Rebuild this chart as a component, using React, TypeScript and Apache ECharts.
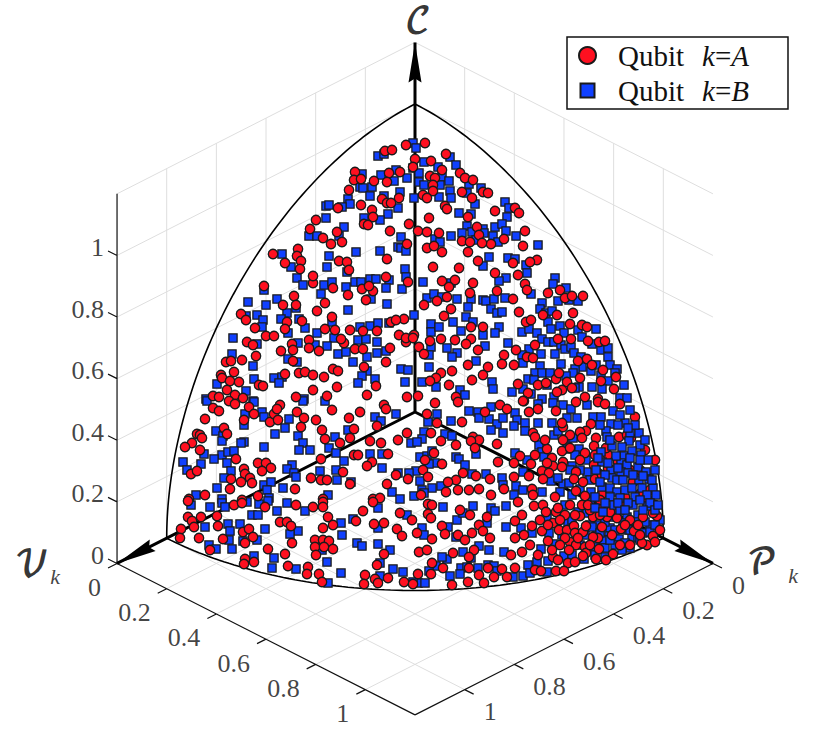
import React, { useEffect, useRef } from "react";
import * as echarts from "echarts";

// Marks, in the plane of the isometric view (width 831, height 748).
const qubitA: number[][] = [
[385,151],[392,150],[406,145],[425,143],[415,159],[446,154],[431,161],[355,172],[354,180],[361,179],[374,181],[389,173],[387,182],[400,172],[413,167],[442,170],[460,173],[430,176],[435,178],[465,178],[473,180],[433,185],[433,191],[423,195],[427,198],[349,190],[382,199],[399,198],[387,203],[391,203],[462,192],[483,192],[488,193],[472,198],[361,205],[338,208],[372,210],[445,206],[447,209],[495,211],[515,208],[519,213],[468,217],[429,218],[316,220],[373,217],[364,224],[368,225],[409,224],[310,229],[337,232],[390,231],[418,231],[427,232],[439,233],[323,238],[331,244],[342,242],[525,231],[477,227],[462,241],[470,242],[479,235],[491,244],[504,239],[523,246],[482,243],[407,244],[427,248],[434,246],[442,252],[468,252],[273,254],[298,249],[297,256],[285,263],[301,261],[300,269],[387,259],[339,261],[347,262],[349,270],[433,267],[459,268],[478,261],[537,260],[530,262],[513,263],
[264,286],[294,296],[283,305],[296,305],[317,311],[325,303],[313,283],[313,276],[333,288],[241,314],[246,320],[255,328],[332,317],[287,322],[302,321],[285,329],[266,336],[274,336],[325,329],[335,330],[247,342],[253,345],[292,344],[309,340],[293,350],[281,351],[309,348],[319,351],[226,362],[231,361],[242,360],[256,356],[293,361],[234,372],[221,375],[222,378],[285,374],[299,373],[305,372],[313,375],[324,377],[333,369],[338,371],[230,381],[239,382],[259,385],[263,386],[227,390],[313,390],[337,387],[213,396],[219,397],[235,395],[243,398],[296,397],[327,396],
[348,295],[362,289],[373,291],[386,277],[369,286],[366,300],[408,282],[442,281],[455,280],[449,287],[473,283],[424,305],[437,301],[451,309],[447,297],[444,316],[470,293],[497,291],[495,273],[404,319],[391,322],[396,320],[414,335],[399,335],[406,342],[406,338],[413,338],[350,330],[363,331],[377,331],[344,343],[341,339],[430,341],[441,339],[455,340],[471,339],[466,344],[471,327],[483,327],[419,347],[424,354],[478,350],[355,349],[363,349],[390,348],[504,355],[502,364],[386,362],[364,367],[468,365],[488,367],[483,375],[452,371],[441,373],[436,378],[430,381],[449,385],[472,380],[376,386],[367,395],[407,397],[418,396],[456,397],
[518,275],[525,284],[527,290],[513,299],[548,293],[583,296],[565,298],[560,290],[572,296],[519,312],[543,315],[557,315],[573,313],[526,322],[531,320],[570,324],[582,325],[587,327],[535,345],[516,350],[558,339],[571,339],[599,342],[605,341],[588,341],[527,357],[533,358],[514,365],[578,361],[587,359],[592,365],[603,370],[556,379],[559,373],[580,378],[567,382],[601,381],[518,384],[538,385],[546,383],[572,388],[562,390],[557,392],[614,389],[528,393],[585,397],[524,401],[598,399],[616,377],
[205,419],[213,408],[219,411],[229,401],[235,404],[249,407],[254,414],[244,420],[224,428],[227,434],[197,434],[200,435],[202,438],[192,443],[185,447],[200,450],[270,422],[274,414],[278,420],[280,405],[277,409],[297,412],[304,418],[301,427],[316,420],[322,430],[325,439],[332,410],[236,459],[258,463],[266,463],[271,468],[262,471],[244,469],[245,474],[250,478],[252,483],[241,482],[231,479],[230,489],[191,474],[197,471],[205,495],[258,496],[242,500],[295,489],[311,478],[321,459],[321,480],[327,480],[323,499],[189,499],
[360,412],[384,405],[386,409],[349,418],[354,429],[350,438],[377,426],[370,441],[381,443],[398,440],[407,433],[427,414],[435,403],[458,402],[437,423],[462,422],[431,433],[441,441],[456,445],[473,437],[479,440],[471,441],[475,448],[485,412],[500,405],[507,409],[497,444],[498,462],[354,455],[358,455],[388,454],[372,462],[367,466],[340,443],[425,460],[434,453],[442,464],[423,470],[428,477],[396,475],[387,484],[408,479],[343,472],[350,484],[463,473],[456,480],[448,482],[476,476],[490,479],[446,492],[458,490],[469,490],[479,489],[491,495],[504,489],[373,499],[380,498],[421,495],
[523,401],[529,412],[556,411],[563,427],[562,423],[591,424],[598,402],[605,404],[576,402],[620,404],[538,409],[533,433],[535,437],[586,431],[580,432],[582,438],[570,435],[596,438],[594,446],[610,445],[619,437],[631,438],[547,449],[562,451],[585,453],[608,455],[645,450],[520,456],[514,463],[531,464],[552,458],[553,466],[563,462],[562,467],[594,465],[547,463],[542,471],[549,473],[529,476],[514,477],[543,479],[598,473],[576,472],[574,479],[583,482],[595,479],[602,475],[608,468],[532,489],[533,495],[576,491],[555,497],[602,494],[585,496],[633,482],[635,417],[627,435],
[188,501],[234,505],[242,503],[265,507],[296,505],[313,507],[323,502],[323,507],[188,517],[192,521],[201,517],[194,527],[181,529],[180,538],[199,538],[217,516],[218,526],[223,539],[243,532],[249,529],[245,543],[253,537],[210,550],[280,522],[287,522],[291,526],[292,543],[268,549],[285,554],[328,517],[333,525],[323,528],[315,540],[323,540],[329,541],[315,547],[324,547],[333,549],[316,555],[245,559],[244,564],[254,562],[288,566],[308,567],[307,574],[319,574],[322,582],
[363,511],[356,521],[373,502],[428,504],[432,505],[400,513],[412,520],[428,514],[431,518],[460,510],[470,515],[487,517],[374,524],[384,523],[397,529],[402,536],[417,533],[432,539],[442,526],[445,534],[458,535],[465,540],[472,533],[479,525],[483,531],[490,538],[419,552],[427,550],[384,554],[453,553],[474,550],[469,557],[432,563],[443,568],[377,565],[365,575],[375,579],[388,578],[364,584],[378,583],[404,582],[418,574],[431,574],[452,585],[468,582],[479,575],[484,583],[494,577],[502,569],[507,577],[413,584],[469,568],[488,568],
[518,502],[534,506],[543,505],[522,515],[515,521],[546,512],[553,523],[556,512],[532,526],[542,531],[524,535],[515,538],[559,530],[567,530],[574,526],[575,533],[583,532],[586,526],[580,516],[582,505],[599,508],[593,517],[607,517],[614,513],[623,503],[617,518],[602,527],[621,529],[634,531],[598,538],[548,541],[570,542],[576,545],[569,550],[585,547],[586,553],[599,549],[613,554],[522,552],[538,555],[553,557],[568,563],[596,559],[515,568],[535,570],[541,571],[556,571],[564,571],[583,556],[657,516],[653,513],[653,536],[643,517],[647,545],[642,543],[511,555],[630,520],[593,537],
// crowded lower-right corner
[610,512],[625,497],[640,494],[648,500],[655,505],[660,530],[655,542],[638,525],[625,525],[612,535],[600,515],[590,510],[575,515],[565,515],[570,505],[600,500],[588,505],[640,535],[630,545],[620,545],[606,560],[590,545],[578,538],[565,538],[560,545],[552,550],[560,520],[650,490],[640,470],[655,460],[630,470],[618,462],[606,448],[595,455],[580,460],[570,448],[563,440],[545,440],[535,455],[558,508],[548,525],[575,562],[558,560],[530,545],[540,520],
];

const qubitB: number[][] = [
[413,143],[416,148],[378,156],[384,154],[424,162],[450,157],[456,165],[438,167],[362,174],[381,175],[396,170],[413,168],[419,173],[407,178],[394,181],[442,177],[449,181],[419,182],[424,185],[440,185],[360,187],[363,188],[372,187],[400,192],[469,184],[481,188],[450,191],[467,193],[370,196],[384,196],[348,199],[414,198],[439,197],[451,198],[350,204],[326,206],[329,205],[342,207],[398,208],[475,204],[505,202],[509,208],[459,213],[471,214],[507,217],[326,218],[388,214],[364,218],[380,220],[344,227],[309,236],[317,236],[401,237],[451,236],[339,236],[467,226],[483,229],[495,227],[502,224],[506,231],[516,236],[462,233],[472,232],[484,233],[493,236],[498,242],[476,240],[435,239],[440,242],[538,245],[398,247],[401,248],[406,251],[356,252],[380,251],[329,256],[282,254],[489,257],[508,258],[515,259],[291,267],[327,267],[405,269],[483,266],[526,265],
[264,290],[248,302],[266,305],[277,299],[296,308],[297,278],[303,285],[321,294],[324,285],[332,282],[287,313],[246,316],[257,315],[263,320],[281,319],[299,319],[262,327],[305,328],[288,333],[332,322],[317,333],[233,338],[257,344],[298,343],[334,338],[315,345],[327,346],[232,354],[338,354],[288,359],[297,362],[253,366],[254,379],[274,378],[282,377],[279,383],[217,384],[246,391],[206,399],[304,399],[253,401],
[346,287],[347,272],[355,282],[361,282],[370,279],[376,279],[389,280],[386,288],[402,289],[406,277],[423,282],[371,299],[387,304],[348,310],[427,298],[434,294],[442,297],[451,283],[457,299],[471,299],[468,307],[483,300],[486,301],[494,299],[505,298],[491,309],[497,313],[502,312],[506,278],[499,281],[466,317],[473,322],[414,315],[431,324],[453,322],[431,332],[439,327],[461,331],[499,327],[495,333],[483,335],[508,343],[485,346],[360,327],[370,326],[378,323],[389,323],[358,340],[366,339],[377,342],[346,352],[377,353],[386,351],[367,357],[353,362],[431,347],[447,348],[457,353],[452,357],[429,355],[476,361],[429,367],[401,369],[408,370],[367,371],[362,376],[375,379],[358,383],[405,382],[422,382],[436,387],[460,390],[465,395],[492,382],[493,389],
[527,273],[555,278],[553,284],[566,288],[531,294],[542,303],[558,301],[569,300],[578,301],[540,309],[546,313],[552,311],[548,322],[560,326],[596,329],[551,329],[578,330],[522,332],[529,329],[537,333],[564,333],[582,337],[542,339],[548,342],[554,342],[592,344],[561,345],[601,350],[608,348],[529,349],[522,355],[541,354],[555,354],[565,349],[571,347],[574,353],[581,357],[608,357],[523,363],[561,364],[540,366],[596,365],[610,365],[582,367],[575,369],[535,373],[542,373],[550,373],[573,373],[617,369],[615,373],[528,379],[534,380],[591,371],[566,376],[601,375],[624,385],[608,381],[592,387],[602,389],[579,387],[523,389],[512,392],[531,394],[542,399],[554,397],[620,398],[627,398],[547,385],[575,388],
[207,401],[254,402],[262,412],[245,414],[264,417],[244,425],[285,428],[289,419],[216,431],[223,436],[222,441],[275,434],[298,436],[303,443],[244,442],[241,443],[264,447],[299,450],[310,450],[329,448],[335,437],[336,453],[222,455],[228,452],[234,451],[204,454],[201,464],[183,462],[214,459],[227,463],[231,471],[187,470],[224,478],[292,465],[287,469],[294,473],[296,477],[264,485],[271,482],[267,490],[283,488],[217,488],[196,495],[222,499],[320,471],[336,470],[328,495],[269,498],[337,480],[303,401],[325,401],
[375,417],[381,421],[396,414],[348,430],[428,422],[437,414],[451,421],[469,411],[478,412],[491,407],[479,418],[489,419],[497,424],[503,418],[491,430],[503,433],[424,432],[422,439],[411,443],[417,442],[445,434],[452,436],[370,454],[382,454],[344,461],[382,468],[420,457],[427,456],[432,451],[435,463],[429,464],[456,457],[459,459],[465,465],[476,454],[472,474],[486,474],[502,478],[416,471],[409,473],[398,473],[420,481],[422,490],[432,488],[441,486],[424,493],[392,492],[400,499],[414,496],[351,482],[503,485],
[515,413],[538,404],[553,403],[563,405],[587,405],[571,409],[517,420],[514,426],[525,423],[525,431],[538,423],[552,423],[554,435],[558,431],[567,418],[577,418],[593,417],[601,417],[613,411],[630,410],[625,423],[611,424],[606,431],[618,425],[630,433],[639,433],[567,439],[573,438],[640,445],[629,441],[539,445],[542,452],[567,449],[579,449],[601,452],[515,453],[624,456],[527,460],[544,457],[602,462],[621,463],[627,465],[572,466],[523,472],[587,472],[611,470],[621,472],[628,473],[638,467],[646,472],[551,481],[563,484],[569,483],[612,478],[617,480],[623,480],[639,480],[649,479],[516,486],[523,490],[542,492],[560,492],[580,489],[602,487],[610,488],[617,492],[625,490],[632,488],[642,488],[653,488],[591,492],[572,495],[514,495],[595,497],[620,498],[635,497],[647,495],[610,497],
[191,505],[210,507],[222,503],[225,507],[247,502],[259,504],[287,503],[268,501],[305,511],[277,511],[252,515],[258,515],[205,527],[228,524],[240,524],[230,531],[265,529],[298,531],[290,534],[229,540],[243,541],[257,540],[209,545],[216,549],[232,549],[318,548],[322,550],[254,556],[274,558],[272,568],[296,569],[327,562],[328,583],
[378,508],[443,507],[353,519],[341,523],[342,535],[378,528],[407,515],[422,528],[424,535],[448,527],[457,520],[463,513],[473,506],[491,508],[495,511],[506,506],[487,523],[506,527],[456,537],[357,543],[362,546],[378,544],[390,550],[479,546],[489,550],[504,552],[463,552],[447,559],[442,557],[471,558],[380,563],[436,566],[393,569],[403,572],[429,571],[380,576],[461,568],[467,567],[460,574],[478,568],[488,565],[494,566],[497,571],[450,576],[418,583],[425,583],[413,582],[341,573],
[565,505],[590,501],[587,513],[614,505],[633,505],[647,506],[620,510],[638,515],[627,517],[636,522],[623,523],[597,525],[568,523],[610,528],[547,518],[521,528],[532,533],[549,533],[553,544],[541,549],[597,532],[609,536],[603,540],[619,539],[632,538],[638,537],[595,547],[605,557],[584,559],[564,556],[548,561],[537,562],[528,565],[523,576],[530,573],[547,572],[513,577],[630,548],[650,525],[643,533],[650,532],[622,550],[562,535],
// crowded lower-right corner
[600,425],[607,437],[620,415],[635,425],[645,440],[612,446],[622,447],[632,451],[641,455],[648,460],[655,470],[640,460],[616,456],[608,463],[596,470],[605,475],[630,458],[618,468],[633,475],[643,476],[652,480],[656,495],[650,503],[640,500],[628,503],[618,503],[605,503],[595,508],[603,512],[612,517],[625,510],[643,510],[655,510],[660,520],[645,522],[628,530],[615,530],[605,522],[590,525],[585,535],[592,527],[615,545],[605,548],[625,543],[640,540],[610,440],[598,458],[628,428],[600,482],[590,480],[580,470],[586,460],[575,455],[570,470],[558,478],[578,512],[572,520],[600,533],[610,540],[580,545],[572,555],[595,555],[630,530],[655,525],[658,505],
];

// Where the picture shows the squares above the discs: the crowded right-hand cluster.
const inFrontCluster = (q: number[]) => q[0] >= 595 && q[1] >= 405 && q[1] <= 512;

const horizontalTicks = [0, 0.2, 0.4, 0.6, 0.8, 1];
const tickNames = ["0", "0.2", "0.4", "0.6", "0.8", "1"];
const axisMax = 1.2;
const seriesNames = ["Qubit k=A", "Qubit k=B"];
const arcAngles = Array.from({ length: 91 }, (_, i) => i);

const project = (v: number, p: number, c: number): number[] => [
  415 + 248.3 * (p - v),
  412 + 126.2 * (p + v) - 308 * c,
];
const BREAK: any = ["-", "-"];
const FONT = "'Liberation Serif', serif";
const SCRIPT = "'DejaVu Math TeX Gyre', 'Noto Sans Math', 'DejaVu Serif', 'Liberation Serif', serif";
const INK = "#111";

function segments(list: number[][][]) {
  const out: any[] = [];
  list.forEach((s) => {
    out.push(s[0], s[1], BREAK);
  });
  return out;
}

const gridSegs: number[][][] = [];
[...horizontalTicks].forEach((t) => {
  gridSegs.push([project(t, 0, 0), project(t, axisMax, 0)]);
  gridSegs.push([project(0, t, 0), project(axisMax, t, 0)]);
  gridSegs.push([project(t, 0, 0), project(t, 0, axisMax)]);
  gridSegs.push([project(0, t, 0), project(0, t, axisMax)]);
  gridSegs.push([project(axisMax, 0, t), project(0, 0, t)]);
  gridSegs.push([project(0, axisMax, t), project(0, 0, t)]);
});
gridSegs.push([project(0, 0, axisMax), project(axisMax, 0, axisMax)]);
gridSegs.push([project(0, 0, axisMax), project(0, axisMax, axisMax)]);

const shift = (q: number[], dx: number, dy: number) => [q[0] + dx, q[1] + dy];
const boxSegs: number[][][] = [
  [project(axisMax, 0, 0), project(axisMax, 0, axisMax)],
  [project(axisMax, 0, 0), project(axisMax, axisMax, 0)],
  [project(axisMax, axisMax, 0), project(0, axisMax, 0)],
];
horizontalTicks.forEach((t) => {
  const a = project(axisMax, 0, t);
  boxSegs.push([a, shift(a, -9, -4.5)]);
  const b = project(axisMax, t, 0);
  boxSegs.push([b, shift(b, -9, 4.5)]);
  const c = project(t, axisMax, 0);
  boxSegs.push([c, shift(c, 9, 4.5)]);
});

const circleRad = (a: number) => (a * Math.PI) / 180;
const arcData: any[] = [];
arcAngles.forEach((a) => arcData.push(project(Math.cos(circleRad(a)), Math.sin(circleRad(a)), 0)));
arcData.push(BREAK);
arcAngles.forEach((a) => arcData.push(project(Math.cos(circleRad(a)), 0, Math.sin(circleRad(a)))));
arcData.push(BREAK);
arcAngles.forEach((a) => arcData.push(project(0, Math.cos(circleRad(a)), Math.sin(circleRad(a)))));

const axisLines = segments([
  [project(0, 0, 0), project(axisMax, 0, 0)],
  [project(0, 0, 0), project(0, axisMax, 0)],
  [project(0, 0, 0), project(0, 0, axisMax)],
]);

const arrowTips = [project(axisMax, 0, 0), project(0, axisMax, 0), project(0, 0, axisMax)];

function labelSeries(data: any[], align: string, size = 26, family = FONT, extra: any = {}) {
  return {
    type: "scatter",
    silent: true,
    symbolSize: 0,
    z: 8,
    clip: false,
    data,
    label: {
      show: true,
      position: "inside",
      align,
      verticalAlign: "middle",
      fontFamily: family,
      fontSize: size,
      color: INK,
      formatter: (p: any) => p.data.text,
      ...extra,
    },
  };
}

const cLabels = horizontalTicks.map((t, i) => {
  const q = project(axisMax, 0, t);
  return { value: [104, q[1] - 8], text: tickNames[i] };
});
const pLabels = horizontalTicks.map((t, i) => {
  const q = project(axisMax, t, 0);
  return { value: shift(q, -16, 24), text: tickNames[i] };
});
const vLabels = horizontalTicks.map((t, i) => {
  const q = project(t, axisMax, 0);
  return { value: shift(q, 19, 22), text: tickNames[i] };
});

export default function App() {
  const ref = useRef<HTMLDivElement>(null);
  useEffect(() => {
    const chart = echarts.init(ref.current!, undefined, { renderer: "svg" });
    const line = (data: any[], color: string, width: number, z: number) => ({
      type: "line",
      silent: true,
      z,
      data,
      symbol: "none",
      clip: false,
      connectNulls: false,
      legendHoverLink: false,
      lineStyle: { color, width, cap: "butt" },
      animation: false,
    });
    const squares = (data: number[][], z: number) => ({
      name: seriesNames[1],
      type: "scatter",
      z,
      data,
      symbol: "rect",
      symbolSize: 8.2,
      clip: false,
      silent: true,
      itemStyle: { color: "#1040ff", borderColor: "#1a1a1a", borderWidth: 1.3, opacity: 1 },
    });
    chart.setOption({
      animation: false,
      grid: { left: 0, top: 0, width: 831, height: 748, containLabel: false },
      xAxis: { type: "value", min: 0, max: 831, show: false },
      yAxis: { type: "value", min: 0, max: 748, inverse: true, show: false },
      legend: {
        show: true,
        orient: "vertical",
        left: 567,
        top: 37,
        padding: [4, 39, 4, 11],
        itemGap: 6,
        itemWidth: 17,
        itemHeight: 17,
        borderColor: INK,
        borderWidth: 1.5,
        backgroundColor: "#fff",
        selectedMode: false,
        data: [
          { name: seriesNames[0], icon: "circle" },
          { name: seriesNames[1], icon: "path://M0 0L0 0M1.5 1.5h14v14h-14zM17 17L17 17" },
        ],
        formatter: (n: string) => `{p| }{t|Qubit}{g| }{m|k}{t|=}{m|${n.slice(-1)}}`,
        textStyle: {
          rich: {
            p: { fontFamily: FONT, fontSize: 29, width: 17, lineHeight: 30 },
            t: { fontFamily: FONT, fontSize: 29, color: INK, lineHeight: 30 },
            g: { fontFamily: FONT, fontSize: 29, width: 18, lineHeight: 30 },
            m: { fontFamily: FONT, fontSize: 29, fontStyle: "italic", color: INK, lineHeight: 30 },
          },
        },
      },
      series: [
        line(segments(gridSegs), "#dedede", 1, 1),
        line(segments(boxSegs), INK, 1.2, 1),
        line(axisLines, "#000", 3, 1),
        line(arcData, "#000", 1.6, 1),
        {
          type: "custom",
          silent: true,
          clip: false,
          z: 1,
          data: arrowTips.map((t) => [t[0], t[1]]),
          renderItem: (_: any, api: any) => {
            const tip = api.coord([api.value(0), api.value(1)]);
            const o = api.coord(project(0, 0, 0));
            const dx = o[0] - tip[0];
            const dy = o[1] - tip[1];
            const len = Math.hypot(dx, dy);
            const ux = dx / len;
            const uy = dy / len;
            const at = (a: number, b: number) => [tip[0] + ux * a - uy * b, tip[1] + uy * a + ux * b];
            return {
              type: "polygon",
              shape: { points: [at(0, 0), at(40, 6.5), at(36, 0), at(40, -6.5)] },
              style: { fill: "#000" },
            };
          },
        },
        squares(qubitB.filter((q) => !inFrontCluster(q)), 3),
        {
          name: seriesNames[0],
          type: "scatter",
          z: 4,
          data: qubitA,
          symbol: "circle",
          symbolSize: 9.4,
          clip: false,
          silent: true,
          itemStyle: { color: "#ff1020", borderColor: "#1a1a1a", borderWidth: 1.3, opacity: 1 },
        },
        squares(qubitB.filter(inFrontCluster), 5),
        labelSeries(cLabels, "right"),
        labelSeries(pLabels, "right"),
        labelSeries(vLabels, "left"),
        labelSeries(
          [
            { value: [418, 22], text: "\u{1D49E}" },
            { value: [32, 565], text: "\u{1D4B1}" },
            { value: [762, 563], text: "\u{1D4AB}" },
          ],
          "center",
          35,
          SCRIPT,
          { fontWeight: "bold", color: "#000" }
        ),
        labelSeries(
          [
            { value: [55, 576], text: "k" },
            { value: [793, 575], text: "k" },
          ],
          "center",
          22,
          FONT,
          { fontStyle: "italic" }
        ),
      ],
    });
    return () => chart.dispose();
  }, []);
  return <div ref={ref} style={{ position: "absolute", left: 0, top: 0, width: 831, height: 748, background: "#fff" }} />;
}
